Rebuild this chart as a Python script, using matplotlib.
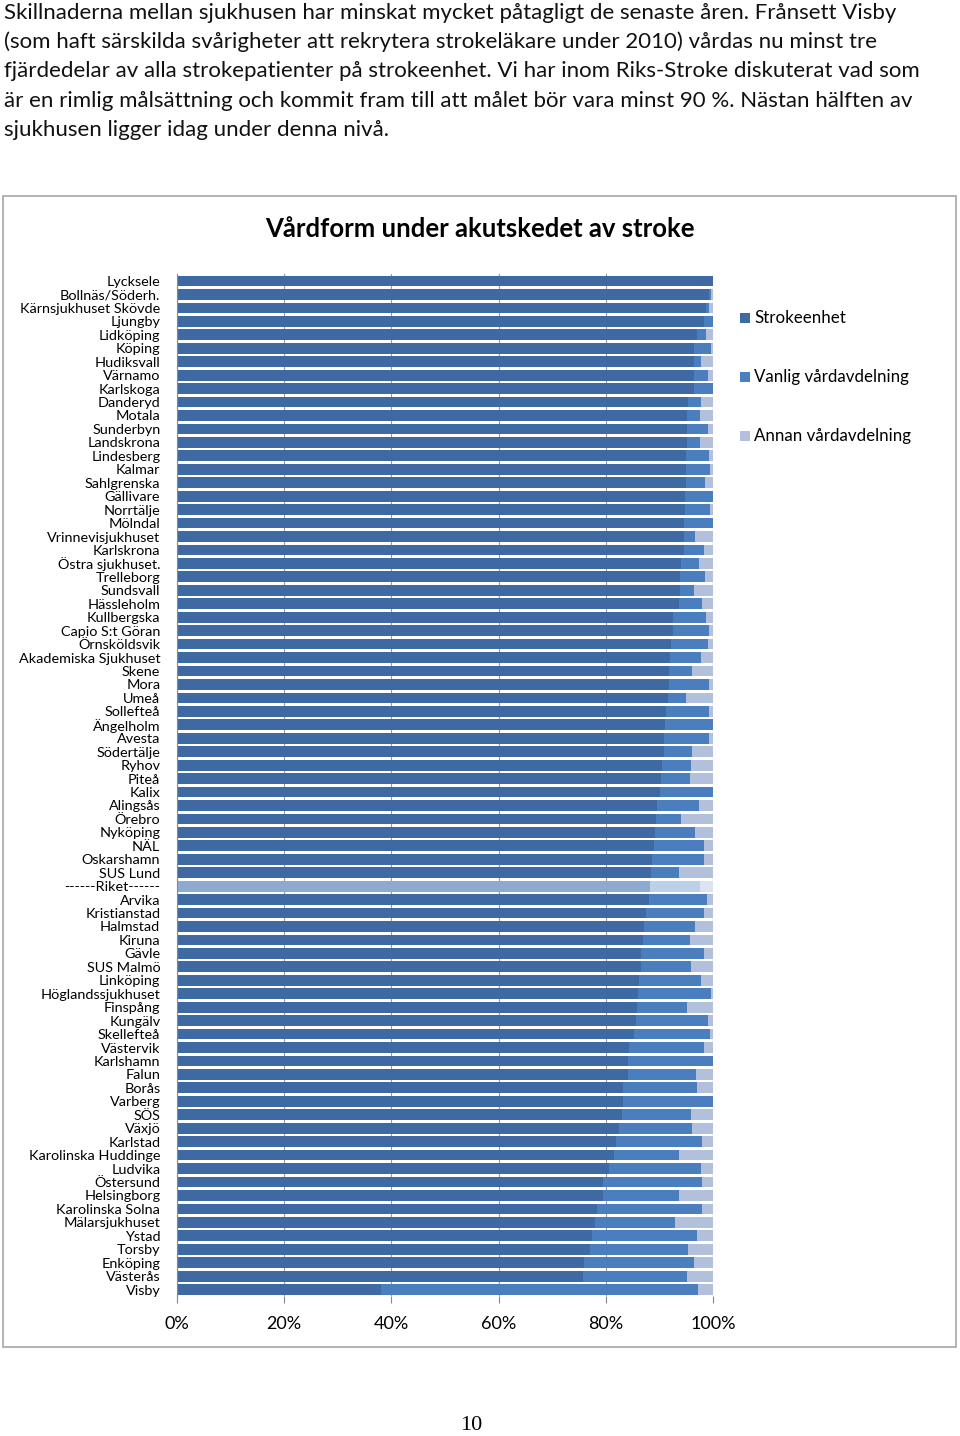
import matplotlib
matplotlib.use("Agg")
import matplotlib.pyplot as plt
from matplotlib.patches import Rectangle

# --- data ---------------------------------------------------------------
hospitals = [
    "Lycksele", "Bollnäs/Söderh.", "Kärnsjukhuset Skövde", "Ljungby", "Lidköping",
    "Köping", "Hudiksvall", "Värnamo", "Karlskoga", "Danderyd", "Motala",
    "Sunderbyn", "Landskrona", "Lindesberg", "Kalmar", "Sahlgrenska", "Gällivare",
    "Norrtälje", "Mölndal", "Vrinnevisjukhuset", "Karlskrona", "Östra sjukhuset.",
    "Trelleborg", "Sundsvall", "Hässleholm", "Kullbergska", "Capio S:t Göran",
    "Örnsköldsvik", "Akademiska Sjukhuset", "Skene", "Mora", "Umeå", "Sollefteå",
    "Ängelholm", "Avesta", "Södertälje", "Ryhov", "Piteå", "Kalix", "Alingsås",
    "Örebro", "Nyköping", "NÄL", "Oskarshamn", "SUS Lund", "------Riket------",
    "Arvika", "Kristianstad", "Halmstad", "Kiruna", "Gävle", "SUS Malmö",
    "Linköping", "Höglandssjukhuset", "Finspång", "Kungälv", "Skellefteå",
    "Västervik", "Karlshamn", "Falun", "Borås", "Varberg", "SÖS", "Växjö",
    "Karlstad", "Karolinska Huddinge", "Ludvika", "Östersund", "Helsingborg",
    "Karolinska Solna", "Mälarsjukhuset", "Ystad", "Torsby", "Enköping",
    "Västerås", "Visby",
]

strokeenhet = [
    100.0, 99.3, 98.7, 98.3, 97.1, 96.5, 96.5, 96.5, 96.4, 95.3, 95.1,
    95.1, 95.1, 95.0, 95.0, 94.9, 94.7, 94.7, 94.6, 94.6, 94.6, 94.1,
    93.9, 93.8, 93.6, 92.6, 92.5, 92.2, 91.9, 91.8, 91.7, 91.6, 91.3,
    91.1, 90.9, 90.9, 90.4, 90.3, 90.1, 89.5, 89.4, 89.2, 88.9, 88.7,
    88.4, 88.3, 88.0, 87.5, 87.2, 87.0, 86.5, 86.5, 86.2, 86.0, 85.8,
    85.7, 85.3, 84.4, 84.1, 84.1, 83.3, 83.3, 83.1, 82.4, 81.9, 81.5,
    80.6, 79.4, 79.4, 78.3, 77.9, 77.5, 77.0, 76.0, 75.8, 38.1,
]

vanlig = [
    0.0, 0.3, 0.5, 1.7, 1.6, 3.1, 1.2, 2.6, 3.6, 2.5, 2.4,
    3.9, 2.4, 4.3, 4.5, 3.7, 5.3, 4.8, 5.4, 2.1, 3.7, 3.2,
    4.6, 2.7, 4.3, 6.1, 6.7, 6.8, 5.9, 4.2, 7.6, 3.4, 7.9,
    8.9, 8.4, 5.2, 5.5, 5.4, 9.9, 7.9, 4.6, 7.5, 9.5, 9.6,
    5.3, 9.2, 10.8, 10.8, 9.5, 8.7, 11.8, 9.4, 11.5, 13.7, 9.4,
    13.3, 14.2, 13.9, 15.9, 12.8, 13.8, 16.7, 12.8, 13.7, 16.1, 12.1,
    17.1, 18.5, 14.2, 19.7, 15.0, 19.6, 18.4, 20.5, 19.4, 59.1,
]

annan = [
    0.0, 0.4, 0.8, 0.0, 1.3, 0.4, 2.3, 0.9, 0.0, 2.2, 2.5,
    1.0, 2.5, 0.7, 0.5, 1.4, 0.0, 0.5, 0.0, 3.3, 1.7, 2.7,
    1.5, 3.5, 2.1, 1.3, 0.8, 1.0, 2.2, 4.0, 0.7, 5.0, 0.8,
    0.0, 0.7, 3.9, 4.1, 4.3, 0.0, 2.6, 6.0, 3.3, 1.6, 1.7,
    6.3, 2.5, 1.2, 1.7, 3.3, 4.3, 1.7, 4.1, 2.3, 0.3, 4.8,
    1.0, 0.5, 1.7, 0.0, 3.1, 2.9, 0.0, 4.1, 3.9, 2.0, 6.4,
    2.3, 2.1, 6.4, 2.0, 7.1, 2.9, 4.6, 3.5, 4.8, 2.8,
]

series_names = ["Strokeenhet", "Vanlig vårdavdelning", "Annan vårdavdelning"]
xticks = [0, 20, 40, 60, 80, 100]

# colours
C_STROKE = "#3F69A3"
C_VANLIG = "#4A7EBE"
C_ANNAN = "#B3C0DB"
# national average row is drawn in paler tones
R_STROKE = "#8FAAD1"
R_VANLIG = "#BDD0EA"
R_ANNAN = "#DCE4F2"

TEXT_FONT = ["Lato", "DejaVu Sans"]

fig = plt.figure(figsize=(9.6, 14.36), dpi=100)

# introductory paragraph
intro = [
    "Skillnaderna mellan sjukhusen har minskat mycket påtagligt de senaste åren. Frånsett Visby",
    "(som haft särskilda svårigheter att rekrytera strokeläkare under 2010) vårdas nu minst tre",
    "fjärdedelar av alla strokepatienter på strokeenhet. Vi har inom Riks-Stroke diskuterat vad som",
    "är en rimlig målsättning och kommit fram till att målet bör vara minst 90 %. Nästan hälften av",
    "sjukhusen ligger idag under denna nivå.",
]
for i, line in enumerate(intro):
    fig.text(4 / 960, 1 - (13 + i * 29.2) / 1436, line, fontsize=16.0,
             family=TEXT_FONT, va="center", ha="left", color="#111111")

# chart frame
fig.patches.append(Rectangle((3 / 960, 1 - 1347 / 1436), 953 / 960, 1151 / 1436,
                             transform=fig.transFigure, fill=False,
                             edgecolor="#A6A6A6", linewidth=1.2))

fig.text(480 / 960, 1 - 229 / 1436, "Vårdform under akutskedet av stroke",
         fontsize=18.5, fontweight="bold", family=TEXT_FONT, ha="center", va="center")

ax = fig.add_axes([177 / 960, 1 - 1296.3 / 1436, 536 / 960, 1022 / 1436])

n = len(hospitals)
ypos = list(range(n))
left_v = strokeenhet
left_a = [s + v for s, v in zip(strokeenhet, vanlig)]

riket = hospitals.index("------Riket------")
c_s = [R_STROKE if i == riket else C_STROKE for i in ypos]
c_v = [R_VANLIG if i == riket else C_VANLIG for i in ypos]
c_a = [R_ANNAN if i == riket else C_ANNAN for i in ypos]

h = 0.8
ax.barh(ypos, strokeenhet, height=h, color=c_s, label=series_names[0], zorder=2)
ax.barh(ypos, vanlig, left=left_v, height=h, color=c_v, label=series_names[1], zorder=2)
ax.barh(ypos, annan, left=left_a, height=h, color=c_a, label=series_names[2], zorder=2)

ax.set_xlim(0, 100)
ax.set_ylim(n - 0.5, -0.5)
ax.set_xticks(xticks)
ax.set_xticklabels([f"{t}%" for t in xticks], fontsize=13, family=TEXT_FONT)
ax.set_yticks(ypos)
ax.set_yticklabels(hospitals, fontsize=10.4, family=TEXT_FONT)
ax.tick_params(axis="y", length=0, pad=12)
ax.tick_params(axis="x", length=5, color="#888888", pad=9)
ax.grid(axis="x", color="#999999", linewidth=0.8, zorder=0)
for side in ["top", "right", "bottom"]:
    ax.spines[side].set_visible(False)
ax.spines["left"].set_color("#888888")

# legend
leg_y = [318, 377, 436]
leg_c = [C_STROKE, C_VANLIG, C_ANNAN]
for name, yy, col in zip(series_names, leg_y, leg_c):
    fig.patches.append(Rectangle((740 / 960, 1 - (yy + 5) / 1436), 10 / 960, 10 / 1436,
                                 transform=fig.transFigure, facecolor=col, edgecolor="none"))
    fig.text(754 / 960, 1 - yy / 1436, name, fontsize=12.2, family=TEXT_FONT,
             ha="left", va="center")

# page number
fig.text(471 / 960, 1 - 1425 / 1436, "10", fontsize=16, family="Liberation Serif",
         ha="center", va="center")

fig.savefig("out.png", dpi=100)
